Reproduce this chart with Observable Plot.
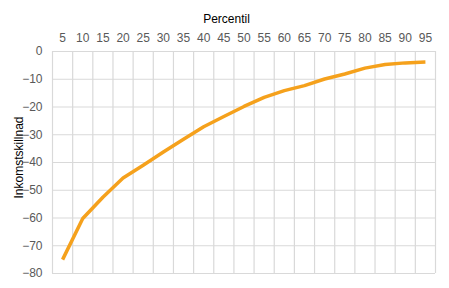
<!DOCTYPE html>
<html>
<head>
<meta charset="utf-8">
<script src="https://cdn.jsdelivr.net/npm/d3@7"></script>
<script src="https://cdn.jsdelivr.net/npm/@observablehq/plot@0.6"></script>
<style>
  html, body { margin: 0; padding: 0; background: #fff; }
  #chart { width: 449px; height: 288px; position: relative; }
  .xtitle { position: absolute; top: 12px; left: 0; width: 453px; text-align: center;
    font-family: "Liberation Sans", Arial, sans-serif; font-size: 12px; color: #000; }
</style>
</head>
<body>
<div id="chart"><div class="xtitle">Percentil</div></div>
<script>
const percentiles = [5, 10, 15, 20, 25, 30, 35, 40, 45, 50, 55, 60, 65, 70, 75, 80, 85, 90, 95];
const differences = [-75, -60.2, -52.5, -45.6, -41, -36.2, -31.6, -27.1, -23.4, -19.8, -16.5, -14.1, -12.3, -9.9, -8.1, -6.0, -4.7, -4.1, -3.8];
const yTicks = [0, -10, -20, -30, -40, -50, -60, -70, -80];
const xTitle = "Percentil";
const yTitle = "Inkomstskillnad";

const data = percentiles.map((p, i) => ({p, v: differences[i]}));
const xGrid = percentiles.map(p => p - 2.5).concat([97.5]);

const plot = Plot.plot({
  width: 449,
  height: 288,
  marginLeft: 52,
  marginRight: 14,
  marginTop: 51,
  marginBottom: 15,
  style: {fontFamily: "'Liberation Sans', Arial, sans-serif", fontSize: "12px", background: "#fff"},
  x: {domain: [2.5, 97.5], axis: null},
  y: {domain: [-80, 0], axis: null},
  marks: [
    Plot.ruleY(yTicks, {stroke: "#d9d9d9", strokeWidth: 1.2}),
    Plot.ruleX(xGrid, {stroke: "#d9d9d9", strokeWidth: 1.2}),
    Plot.axisX(percentiles, {anchor: "top", tickSize: 0, tickPadding: 10, label: null, color: "#595959", fontSize: 12}),
    Plot.axisY(yTicks, {anchor: "left", tickSize: 0, tickPadding: 10, label: null, color: "#595959", fontSize: 12}),
    Plot.text([yTitle], {frameAnchor: "left", dx: -33, dy: -5, rotate: -90, textAnchor: "middle", fill: "#000", fontSize: 12}),
    Plot.line(data, {x: "p", y: "v", stroke: "#f5a11c", strokeWidth: 3.5, strokeLinejoin: "round", strokeLinecap: "butt"})
  ]
});
document.getElementById("chart").appendChild(plot);
</script>
</body>
</html>
